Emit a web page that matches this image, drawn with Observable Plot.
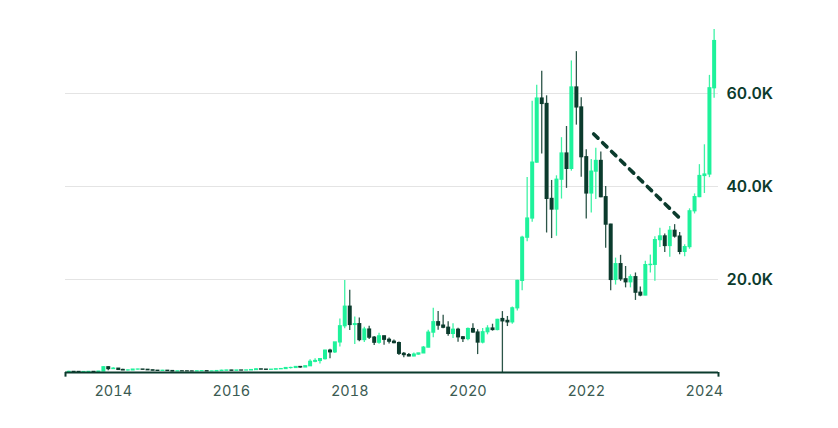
<!DOCTYPE html>
<html>
<head>
<meta charset="utf-8">
<script src="https://cdn.jsdelivr.net/npm/d3@7"></script>
<script src="https://cdn.jsdelivr.net/npm/@observablehq/plot@0.6"></script>
<style>
  html, body { margin: 0; padding: 0; background: #ffffff; }
  #chart { width: 838px; height: 428px; }
</style>
</head>
<body>
<div id="chart"></div>
<script>
// Monthly candles, April 2013 – March 2024 (USD)
const firstMonth = "2013-04";
const lastMonth = "2024-03";

const open = [
  93,139,129,97,106,135,133,198,1130,
  732,830,550,445,447,627,640,586,478,386,338,378,
  320,217,254,244,236,230,263,284,230,236,314,377,
  430,368,437,416,448,531,673,624,575,609,698,742,
  963,970,1190,1080,1348,2300,2480,2875,4703,4338,6468,9946,
  14156,10221,10397,6973,9240,7494,6404,7780,7037,6625,6317,4017,
  3742,3457,3854,4105,5350,8574,10817,10085,9630,8293,9199,7569,
  7193,9350,8599,6438,8658,9461,9137,11500,11100,10784,13804,19700,
  28990,33114,45137,58918,57750,37332,35040,41461,47100,43790,61300,57000,
  46300,38500,43200,45500,37700,31800,19900,23300,20050,19400,20500,17160,
  16550,23100,23150,28470,29270,27200,30480,29230,25940,26970,34670,37720,
  42260,42580,61130
];
const high = [
  266,140,130,110,140,146,230,1242,1238,
  1000,860,715,550,630,680,650,600,500,415,460,385,
  320,265,300,260,248,268,318,285,248,335,500,470,
  462,448,440,467,550,780,705,628,630,720,755,975,
  1150,1210,1300,1380,2760,2980,2920,4770,4980,6470,11500,19800,
  17712,11958,11704,9745,9964,7754,8424,7860,7400,7000,6550,4309,
  4070,4200,4110,5600,9070,13800,13130,12300,10900,10500,9500,7750,
  9578,10500,9190,9460,10067,10380,11434,13100,12050,14100,19860,29300,
  41950,58352,61800,64800,59500,41300,42300,50500,52900,67000,69000,59100,
  47900,45800,48200,47400,40000,31900,24600,25200,22800,21000,21400,18400,
  23900,25250,29200,31000,29800,31400,31800,30100,27500,35200,38400,44700,
  48970,63900,73750
];
const low = [
  50,80,88,65,94,114,100,196,380,
  720,410,440,340,420,560,565,440,375,275,318,305,
  150,212,235,214,225,220,253,196,225,235,310,350,
  354,365,396,413,436,525,605,470,570,605,680,740,
  755,945,890,1060,1348,2080,1830,2670,2950,4110,5500,9400,
  9035,6048,6600,6429,7090,5826,6070,5880,6150,6200,3650,3156,
  3400,3380,3730,4080,5330,7450,9100,9400,7800,7300,6500,6430,
  6850,8450,3850,6150,8100,8900,8970,0,9880,10400,13200,17600,
  28130,32300,45000,47000,30000,28800,29300,37300,39600,43300,53200,42000,
  33000,34300,37200,37600,26700,17600,18800,19600,18200,18200,15500,16300,
  16500,21400,19600,26900,25800,24800,28900,25300,24900,26500,34100,37600,
  38500,41900,59000
];
const close = [
  139,129,97,106,135,133,198,1130,732,
  830,550,445,447,627,640,586,478,386,338,378,320,
  217,254,244,236,230,263,284,230,236,314,377,430,
  368,437,416,448,531,673,624,575,609,698,742,963,
  970,1190,1080,1348,2300,2480,2875,4703,4338,6468,9946,14156,
  10221,10397,6973,9240,7494,6404,7780,7037,6625,6317,4017,3742,
  3457,3854,4105,5350,8574,10817,10085,9630,8293,9199,7569,7193,
  9350,8599,6438,8658,9461,9137,11323,11000,10784,13804,19700,28990,
  33114,45137,58918,57750,37332,35040,41461,47100,43790,61300,57000,46300,
  38500,43200,45500,37700,31800,19900,23300,20050,19400,20500,17160,16550,
  23100,23150,28470,29270,27200,30480,29230,25940,26970,34670,37720,42260,
  42580,61130,71280
];

// Trend line (dashed)
const trendDates = ["2022-02-16", "2023-07-26"];
const trendValues = [51300, 33400];

const yTicks = [20000, 40000, 60000];
const xTickYears = [2014, 2016, 2018, 2020, 2022, 2024];
const xDomain = ["2013-03-12", "2024-03-28"];

const months = d3.utcMonth.range(
  d3.utcParse("%Y-%m")(firstMonth),
  d3.utcMonth.offset(d3.utcParse("%Y-%m")(lastMonth), 1)
);
const candles = months.map((date, i) => ({
  date, open: open[i], high: high[i], low: low[i], close: close[i],
  up: close[i] >= open[i]
}));
const trend = trendDates.map((d, i) => ({date: new Date(d), value: trendValues[i]}));

const UP = "#1ef29b";
const DOWN = "#0b3b2d";
const UPWICK = "#3ff2a6";
const DOWNWICK = "#2c5548";
const FONT = "Inter, 'Noto Sans', sans-serif";

const chart = Plot.plot({
  width: 838,
  height: 428,
  marginLeft: 65,
  marginRight: 120,
  marginTop: 0,
  marginBottom: 56,
  style: {fontFamily: FONT, background: "#ffffff", overflow: "visible"},
  x: {type: "utc", domain: xDomain.map(d => new Date(d))},
  y: {domain: [0, 80000]},
  marks: [
    Plot.ruleY(yTicks, {stroke: "#e4e4e4", strokeWidth: 1}),
    Plot.ruleX(candles, {
      x: "date", y1: "low", y2: "high",
      stroke: d => d.up ? UPWICK : DOWNWICK, strokeWidth: 1.3
    }),
    Plot.ruleX(candles, {
      x: "date",
      y1: d => Math.max(d.open, d.close),
      y2: d => Math.min(d.open, d.close),
      insetTop: -0.6, insetBottom: -0.6,
      stroke: d => d.up ? UP : DOWN, strokeWidth: 4
    }),
    Plot.line(trend, {
      x: "date", y: "value", stroke: DOWN, strokeWidth: 3.6,
      strokeDasharray: "6,6.5", strokeLinecap: "round"
    }),
    Plot.ruleY([0], {stroke: DOWN, strokeWidth: 2}),
    Plot.ruleX(xDomain.map(d => new Date(d)), {y1: 0, y2: -1000, stroke: DOWN, strokeWidth: 2}),
    Plot.axisX(xTickYears.map(y => new Date(Date.UTC(y, 0, 1))), {
      tickSize: 0, tickPadding: 13, tickFormat: d3.utcFormat("%Y"),
      fontSize: 14.5, fill: "#3b5b52", label: null
    }),
    Plot.axisY(yTicks, {
      anchor: "right", tickSize: 0, tickPadding: 8,
      tickFormat: d => (d / 1000).toFixed(1) + "K",
      fontSize: 16, fontWeight: 600, fill: DOWN, label: null
    })
  ]
});
document.getElementById("chart").appendChild(chart);
</script>
</body>
</html>
